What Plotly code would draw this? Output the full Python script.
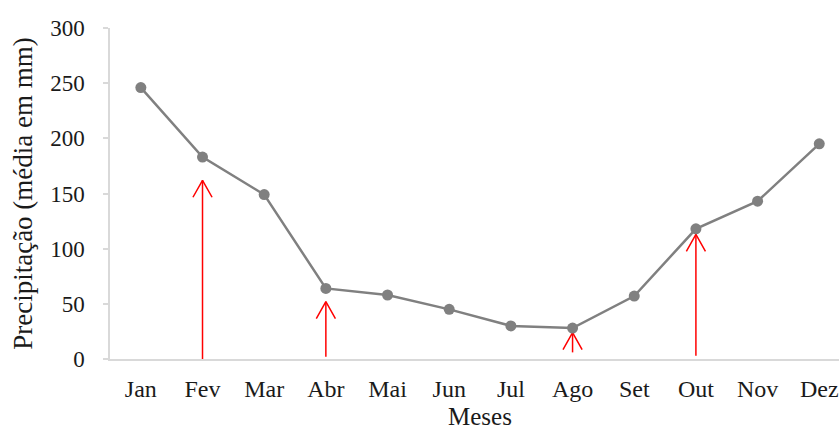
import plotly.graph_objects as go

# Monthly mean precipitation (mm)
months = ["Jan", "Fev", "Mar", "Abr", "Mai", "Jun", "Jul", "Ago", "Set", "Out", "Nov", "Dez"]
precip = [246, 183, 149, 64, 58, 45, 30, 28, 57, 118, 143, 195]

# Highlight arrows: month, start value, tip value
arrow_months = ["Fev", "Abr", "Ago", "Out"]
arrow_start = [-1, 2, 6, 3]
arrow_tip = [162, 52, 24, 113]

x_idx = list(range(len(months)))

# arrow head half-width (category units) and depth (y units)
head_dx = 0.155
head_dy = 15.4

ax, ay = [], []
for m, y0, y1 in zip(arrow_months, arrow_start, arrow_tip):
    xi = months.index(m)
    ax += [xi, xi, None, xi - head_dx, xi, xi + head_dx, None]
    ay += [y0, y1, None, y1 - head_dy, y1, y1 - head_dy, None]

fig = go.Figure()
fig.add_trace(go.Scatter(
    x=ax, y=ay, mode="lines",
    line=dict(color="#ff0000", width=1.5),
    hoverinfo="skip", showlegend=False,
))
fig.add_trace(go.Scatter(
    x=x_idx, y=precip, mode="lines+markers",
    line=dict(color="#808080", width=2.5),
    marker=dict(color="#808080", size=11),
    showlegend=False,
))

font_family = "Liberation Serif, Times New Roman, serif"
fig.update_layout(
    width=839, height=433,
    margin=dict(l=110, r=0, t=28, b=74, autoexpand=False),
    paper_bgcolor="white", plot_bgcolor="white",
    font=dict(family=font_family, color="#1a1a1a"),
)
fig.update_xaxes(
    range=[-0.5, 11.32],
    tickmode="array", tickvals=x_idx, ticktext=months,
    tickfont=dict(size=24, family=font_family, color="#1a1a1a"),
    ticklabeloverflow="allow",
    showline=True, linecolor="#d9d9d9", linewidth=2,
    showgrid=False, zeroline=False, ticks="",
    ticklabelstandoff=7, automargin=False,
)
# x-axis title centred under the full category band, resting on the bottom edge
fig.add_annotation(
    text="Meses", x=(len(months) - 1) / 2, xref="x",
    y=-0.222, yref="paper", yanchor="bottom", showarrow=False,
    font=dict(size=25, family=font_family, color="#1a1a1a"),
)
fig.update_yaxes(
    range=[0, 300], tickvals=[0, 50, 100, 150, 200, 250, 300],
    tickfont=dict(size=23, family=font_family, color="#1a1a1a"),
    showline=True, linecolor="#d9d9d9", linewidth=1.5,
    ticks="outside", ticklen=5, tickcolor="#d9d9d9", tickwidth=1.5,
    showgrid=False, zeroline=False, automargin=False,
    ticklabelstandoff=14,
    title=dict(text="Precipitação (média em mm)", font=dict(size=27, family=font_family), standoff=10),
)

fig.write_html("out.html")
